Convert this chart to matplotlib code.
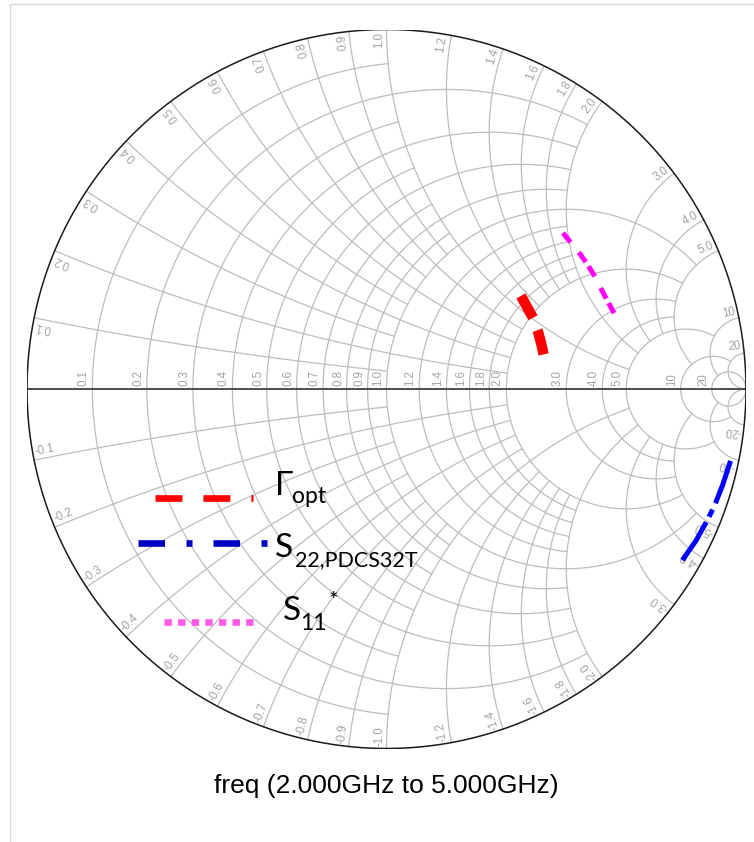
import numpy as np
import matplotlib.pyplot as plt
from matplotlib.lines import Line2D
from matplotlib.patches import Rectangle

plt.rcParams['lines.scale_dashes'] = False

W, H = 754, 842
CX, CY, RAD = 386.5, 389.0, 359.5

# grid values and how far each grid line runs along the other coordinate
grid_vals = [0.1, 0.2, 0.3, 0.4, 0.5, 0.6, 0.7, 0.8, 0.9, 1.0,
             1.2, 1.4, 1.6, 1.8, 2.0, 3.0, 4.0, 5.0, 10, 20]
grid_ext = [1, 2, 1, 2, 1, 2, 1, 2, 1, 5,
            2, 2, 2, 2, 5, 5, 5, 10, 20, np.inf]

# traces in the reflection-coefficient plane (real, imag)
gopt_re = [0.374, 0.391, 0.408, 0.421, 0.430, 0.438]
gopt_im = [0.259, 0.228, 0.197, 0.161, 0.128, 0.092]
s22_re = [0.957, 0.935, 0.913, 0.893, 0.862, 0.815]
s22_im = [-0.200, -0.267, -0.323, -0.364, -0.420, -0.488]
s11c_re = [0.491, 0.516, 0.538, 0.558, 0.577, 0.594, 0.613, 0.633]
s11c_im = [0.434, 0.403, 0.376, 0.348, 0.317, 0.284, 0.248, 0.211]

title = 'freq (2.000GHz to 5.000GHz)'


def gam(z):
    return (z - 1) / (z + 1)


def lab(v):
    return '%.1f' % v if v < 10 else '%d' % v


def px(x, y):
    # pixel (from top-left) -> figure fraction
    return x / W, 1 - y / H


fig = plt.figure(figsize=(W / 100, H / 100), dpi=100)
fig.add_artist(Rectangle(px(10, 4), 1, -1, transform=fig.transFigure,
                         fill=False, ec='#d9d9d9', lw=1))

ax = fig.add_axes([(CX - RAD) / W, (H - CY - RAD) / H, 2 * RAD / W, 2 * RAD / H])
ax.set_xlim(-1, 1)
ax.set_ylim(-1, 1)
ax.axis('off')

gcol = '#bdbdbd'
tcol = '#a3a3a3'
lfont = 'Liberation Sans'
fs = 8.3

for v, e in zip(grid_vals, grid_ext):
    # constant resistance circle
    t = np.linspace(-min(np.arctan(e), 1.5707), min(np.arctan(e), 1.5707), 500)
    g = gam(v + 1j * np.tan(t))
    ax.plot(g.real, g.imag, color=gcol, lw=0.9, zorder=1)
    # constant reactance arcs
    t = np.linspace(0, min(np.arctan(e), 1.5707), 500)
    for s in (1, -1):
        g = gam(np.tan(t) + 1j * s * v)
        ax.plot(g.real, g.imag, color=gcol, lw=0.9, zorder=1)

    # resistance label on the real axis
    g0 = gam(v)
    ax.text(g0 - 0.007, 0.007, lab(v), rotation=90, ha='right', va='bottom',
            color=tcol, fontsize=fs, family=lfont)
    # reactance labels on the rim
    th = np.angle(gam(1j * v))
    a = 0.993 * np.exp(1j * th) + 0.004 * np.exp(1j * (th + np.pi / 2))
    ax.text(a.real, a.imag, lab(v), rotation=np.degrees(th), rotation_mode='anchor',
            ha='right', va='bottom', color=tcol, fontsize=fs, family=lfont)
    a = 0.993 * np.exp(-1j * th) + 0.004 * np.exp(-1j * (th + np.pi / 2))
    ax.text(a.real, a.imag, '-' + lab(v), rotation=180 - np.degrees(th),
            rotation_mode='anchor', ha='left', va='bottom', color=tcol,
            fontsize=fs, family=lfont)

ax.plot([-1, 1], [0, 0], color='#404040', lw=1.3, zorder=2)
ph = np.linspace(0, 2 * np.pi, 720)
ax.plot(np.cos(ph), np.sin(ph), color='#1a1a1a', lw=1.1, zorder=2)

# traces
ax.plot(gopt_re, gopt_im, color='#ff0000', lw=7.5, ls=(0, (18, 9.5)), zorder=5)
ax.plot(s22_re, s22_im, color='#0000ff', lw=3.6, ls=(0, (32.4, 5, 5.8, 4.3)), zorder=5)
ax.plot(s11c_re, s11c_im, color='#ff00ff', lw=3.6, ls=(12.2, (8.6, 3.6, 8.6, 9.4)), zorder=5)

# legend drawn by hand
fig.add_artist(Line2D([155 / W, 253 / W], [1 - 498 / H] * 2, color='#ff0000',
                      lw=4.8, ls=(0, (19.4, 15.1))))
fig.add_artist(Line2D([138 / W, 267 / W], [1 - 543 / H] * 2, color='#0000c0',
                      lw=4.8, ls=(0, (19.1, 15.5, 4.3, 15.1))))
fig.add_artist(Line2D([164 / W, 254 / W], [1 - 622 / H] * 2, color='#ff5ce6',
                      lw=4.8, ls=(0, (5.3, 4.5))))

legf = ['Lato', 'DejaVu Sans']
fig.text(*px(275, 495), '\u0393', fontsize=24, family=legf, va='baseline')
fig.text(*px(292, 503), 'opt', fontsize=16.5, family=legf, va='baseline')
fig.text(*px(275, 557), 'S', fontsize=24, family=legf, va='baseline')
fig.text(*px(295, 566), '22,PDCS32T', fontsize=15.5, family=legf, va='baseline')
fig.text(*px(283, 620), 'S', fontsize=24, family=legf, va='baseline')
fig.text(*px(300, 630), '11', fontsize=16.5, family=legf, va='baseline')
fig.text(*px(329, 607), '*', fontsize=16, family=legf, va='baseline')

fig.text(*px(386.5, 786), title, fontsize=19, family='Liberation Sans',
         ha='center', va='center')

fig.savefig('out.png', dpi=100)
